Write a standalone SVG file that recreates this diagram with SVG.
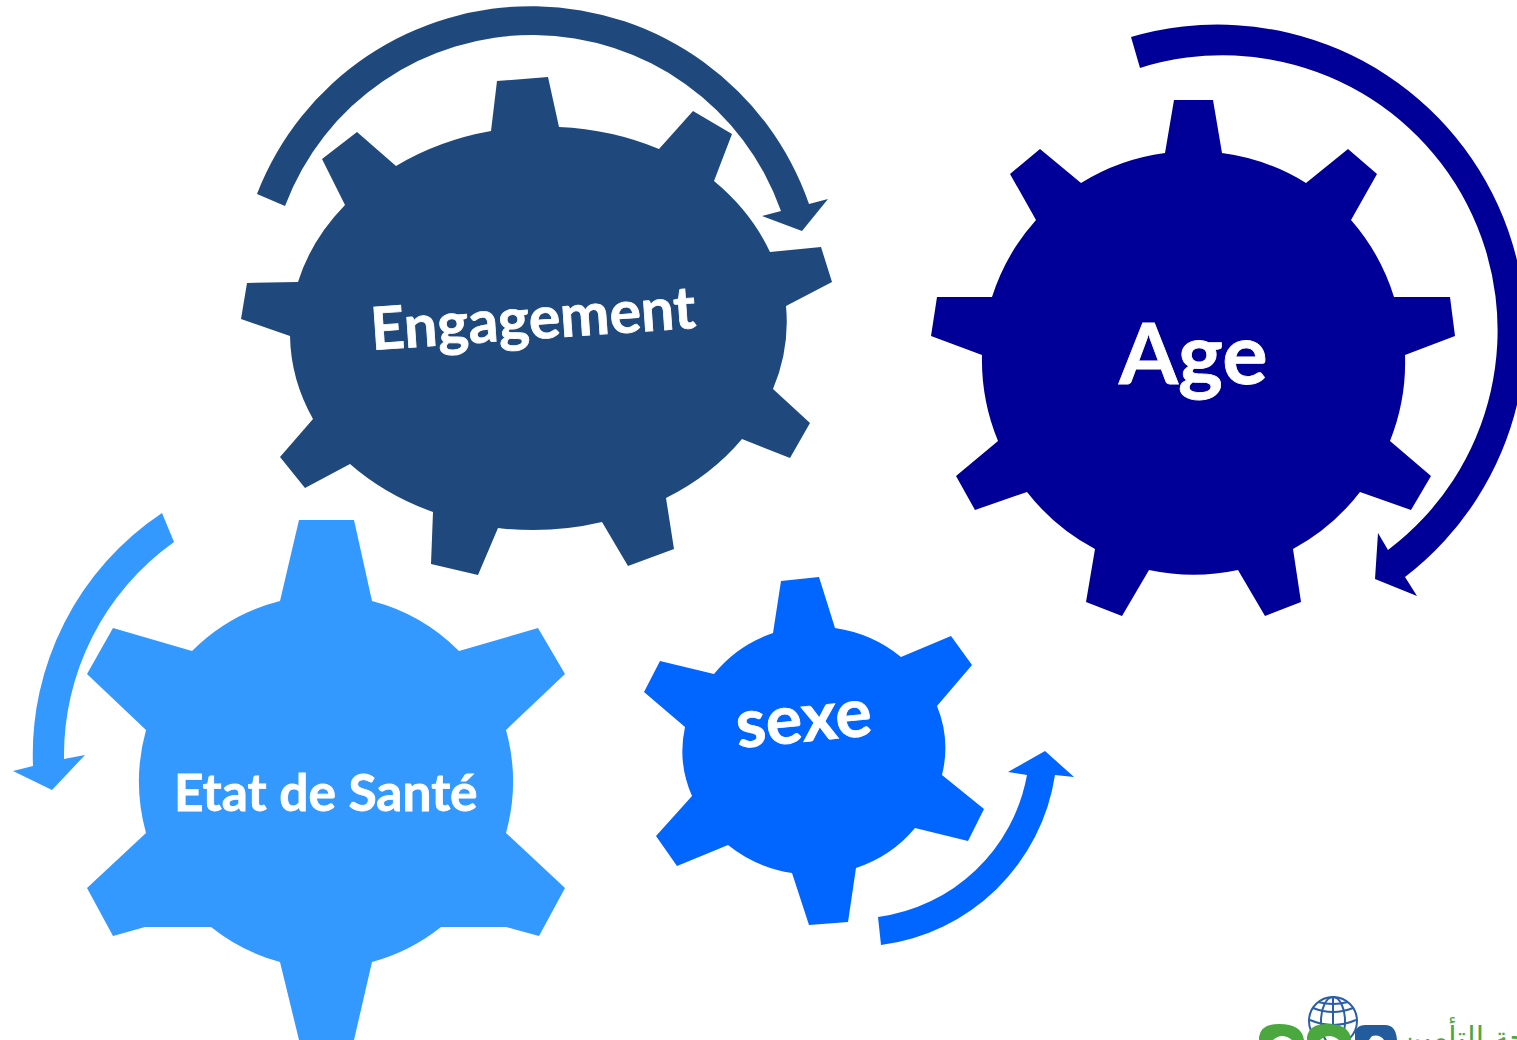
<svg xmlns="http://www.w3.org/2000/svg" width="1517" height="1040" viewBox="0 0 1517 1040">
<style>
.lbl{font-family:Lato,"Open Sans","Liberation Sans",sans-serif;font-weight:700;fill:#fff;stroke:#fff;stroke-width:.8}
.eng{fill:#1f497d}.age{fill:#000099}.eta{fill:#3399ff}.sex{fill:#0066ff}
</style>
<rect width="1517" height="1040" fill="#fff"/>
<g id="connectors">
<path class="eng" d="M257 194A294 294 0 0 1 809 204L828 199L802 231L762 216L781 211A264 264 0 0 0 285 206Z"/>
<path class="age" d="M1131 37A308 308 0 0 1 1405 577L1417 596L1375 579L1378 533L1388 550A275 275 0 0 0 1140 68Z"/>
<path class="eta" d="M162 513A290 290 0 0 0 33 766L13 771L52 790L85 755L64 759A262 262 0 0 1 174 542Z"/>
<path class="sex" d="M878 917A175 175 0 0 0 1027 775L1008 772L1045 751L1074 777L1055 775A202 202 0 0 1 881 945Z"/>
</g>
<g id="node-engagement">
<path class="eng" d="M491 131L497 81L548 77L559 127A250 205 0 0 1 659 149L693 111L732 134L714 181A250 205 0 0 1 770 252L821 247L832 282L786 306A250 205 0 0 1 773 389L810 423L790 458L742 439A250 205 0 0 1 666 498L674 549L628 566L602 522A250 205 0 0 1 498 528L478 575L431 564L433 512A250 205 0 0 1 350 464L305 488L280 457L313 419A250 205 0 0 1 290 336L241 319L247 283L298 282A250 205 0 0 1 345 205L322 159L357 132L396 166A250 205 0 0 1 491 131Z"/>
<text class="lbl" transform="translate(372 350) rotate(-3.9)" font-size="59">Engagement</text>
</g>
<g id="node-age">
<path class="age" d="M1165 153L1174 100L1213 100L1222 153A212 212 0 0 1 1306 183L1348 149L1377 174L1351 220A212 212 0 0 1 1394 297L1450 297L1455 336L1405 355A212 212 0 0 1 1390 441L1431 476L1411 510L1360 492A212 212 0 0 1 1293 549L1301 602L1265 616L1238 570A212 212 0 0 1 1149 570L1122 616L1086 602L1095 549A212 212 0 0 1 1027 492L975 510L956 476L998 441A212 212 0 0 1 982 355L931 336L937 297L992 297A212 212 0 0 1 1036 220L1010 174L1040 149L1081 183A212 212 0 0 1 1165 153Z"/>
<text class="lbl" x="1119" y="384" font-size="85">Age</text>
</g>
<g id="node-etat">
<path class="eta" d="M280 601L299 520L354 520L372 601A190 190 0 0 1 459 651L538 628L565 674L506 730A193 193 0 0 1 506 833L565 888L539 936L506 927L441 927A190 190 0 0 1 372 962L354 1040L299 1040L280 962A190 190 0 0 1 211 927L145 927L113 936L87 888L146 833A193 193 0 0 1 146 730L87 674L113 628L192 651A190 190 0 0 1 280 601Z"/>
<text class="lbl" x="174" y="811" font-size="51.5">Etat de Santé</text>
</g>
<g id="node-sexe">
<path class="sex" d="M773 633L781 581L819 577L835 628A130 120 0 0 1 901 657L951 636L972 665L937 706A130 120 0 0 1 942 775L984 809L968 841L915 828A130 120 0 0 1 856 868L848 922L809 925L792 873A130 120 0 0 1 728 845L677 866L656 836L692 796A130 120 0 0 1 685 727L644 692L660 661L714 674A130 120 0 0 1 773 633Z"/>
<text class="lbl" transform="translate(738 748) rotate(-5.5)" font-size="68">sexe</text>
</g>
<g id="logo">
<g fill="none" stroke="#2a5fa8" stroke-width="2">
<circle cx="1333" cy="1021" r="24"/>
<ellipse cx="1333" cy="1021" rx="12" ry="24"/>
<line x1="1333" y1="997" x2="1333" y2="1035"/>
<path d="M1313 1008Q1333 1016 1353 1008M1310 1020Q1333 1030 1356 1020M1318 1002Q1333 1006 1348 1002"/>
</g>
<path fill="#4aa83f" d="M1259 1040V1037Q1261 1024 1279 1024Q1302 1024 1304 1040H1292Q1282 1032 1273 1040Z"/>
<path fill="#4aa83f" d="M1307 1040V1037Q1309 1024 1327 1024Q1350 1024 1351 1040H1339Q1329 1032 1320 1040Z"/>
<path fill="#235c9c" d="M1355 1040V1032Q1357 1025 1365 1025H1385Q1396 1025 1397 1040H1384Q1380 1034 1372 1036L1369 1040Z"/>
<text x="1551" y="1048" font-family="'DejaVu Sans','Noto Sans',sans-serif" font-size="30" fill="#4aa83f" direction="rtl">واحة التأمين</text>
</g>
</svg>
